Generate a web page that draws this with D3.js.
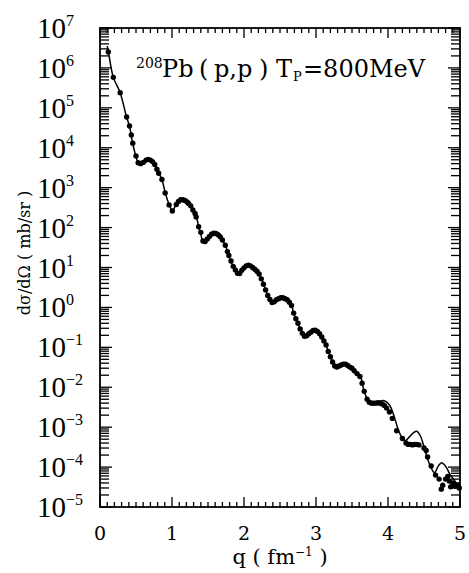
<!DOCTYPE html>
<html>
<head>
<meta charset="utf-8">
<script src="https://cdn.jsdelivr.net/npm/d3@7"></script>
<style>
  html, body { margin: 0; padding: 0; background: #fff; }
  svg { display: block; }
  text { font-family: "Liberation Serif", "DejaVu Serif", serif; fill: #000; }
  .cent { font-family: "DejaVu Serif", "Liberation Serif", serif; }
</style>
</head>
<body>
<svg id="chart" width="469" height="573"></svg>
<script>
// Momentum transfer q (fm^-1) and cross sections dσ/dΩ (mb/sr)
const qTheory = [0.10, 0.116, 0.185, 0.28, 0.37, 0.41, 0.45, 0.50, 0.535, 0.60, 0.67, 0.74, 0.81, 0.86, 0.905, 0.96, 1.005, 1.05, 1.09, 1.145, 1.23, 1.29, 1.34, 1.37, 1.39, 1.44, 1.49, 1.60, 1.67, 1.74, 1.79, 1.83, 1.88, 1.93, 2.00, 2.065, 2.135, 2.20, 2.25, 2.30, 2.35, 2.39, 2.46, 2.53, 2.60, 2.66, 2.69, 2.74, 2.79, 2.855, 2.925, 2.995, 3.06, 3.13, 3.18, 3.23, 3.28, 3.34, 3.41, 3.48, 3.55, 3.62, 3.66, 3.71, 3.76, 3.85, 3.95, 4.02, 4.08, 4.14, 4.20, 4.24, 4.30, 4.36, 4.40, 4.45, 4.50, 4.55, 4.60, 4.645, 4.70, 4.745, 4.80, 4.86, 4.92, 4.97];
const sigmaTheory = [3.5e6, 2.6e6, 5.8e5, 2.4e5, 5.8e4, 3.5e4, 1.4e4, 6.0e3, 4.2e3, 4.4e3, 5.1e3, 4.3e3, 2.4e3, 1.6e3, 760, 380, 270, 355, 450, 510, 410, 275, 180, 107, 79, 43, 54, 72, 59, 36, 20, 12.6, 8.7, 6.9, 9.5, 11.5, 9.5, 7.4, 4.9, 2.75, 1.7, 1.32, 1.58, 1.74, 1.58, 1.15, 0.71, 0.44, 0.27, 0.186, 0.234, 0.27, 0.204, 0.126, 0.071, 0.044, 0.032, 0.035, 0.038, 0.032, 0.024, 0.018, 0.0089, 0.0052, 0.0042, 0.0043, 0.0046, 0.0036, 0.0020, 8.9e-4, 5.2e-4, 4.6e-4, 5.8e-4, 7.4e-4, 7.9e-4, 6.0e-4, 3.2e-4, 1.6e-4, 9.5e-5, 7.2e-5, 1.07e-4, 1.29e-4, 1.05e-4, 6.6e-5, 4.7e-5, 3.5e-5];

const qData = [0.115, 0.185, 0.28, 0.37, 0.41, 0.435, 0.455, 0.50, 0.53, 0.565, 0.60, 0.64, 0.67, 0.70, 0.73, 0.76, 0.79, 0.815, 0.86, 0.905, 0.96, 1.005, 1.06, 1.09, 1.12, 1.15, 1.18, 1.21, 1.23, 1.26, 1.29, 1.32, 1.335, 1.37, 1.40, 1.43, 1.46, 1.49, 1.52, 1.55, 1.58, 1.61, 1.64, 1.67, 1.70, 1.74, 1.77, 1.79, 1.82, 1.85, 1.88, 1.91, 1.94, 1.97, 2.00, 2.03, 2.06, 2.09, 2.12, 2.15, 2.18, 2.21, 2.24, 2.27, 2.30, 2.33, 2.36, 2.39, 2.42, 2.45, 2.48, 2.51, 2.54, 2.57, 2.60, 2.63, 2.66, 2.69, 2.72, 2.75, 2.78, 2.81, 2.84, 2.87, 2.90, 2.93, 2.96, 2.99, 3.02, 3.05, 3.08, 3.11, 3.14, 3.17, 3.20, 3.23, 3.26, 3.29, 3.32, 3.35, 3.38, 3.41, 3.44, 3.47, 3.50, 3.53, 3.57, 3.61, 3.64, 3.67, 3.71, 3.74, 3.77, 3.80, 3.83, 3.86, 3.89, 3.92, 3.95, 3.98, 4.02, 4.06, 4.12, 4.20, 4.25, 4.28, 4.31, 4.34, 4.37, 4.40, 4.43, 4.50, 4.53, 4.55, 4.60, 4.66, 4.71, 4.74, 4.76, 4.80, 4.83, 4.85, 4.87, 4.90, 4.92, 4.94, 4.97, 4.99];
const sigmaData = [2.5e6, 5.8e5, 2.4e5, 5.9e4, 3.5e4, 2.1e4, 1.3e4, 6.2e3, 4.2e3, 4.0e3, 4.3e3, 4.9e3, 5.1e3, 4.9e3, 4.5e3, 3.8e3, 2.9e3, 2.3e3, 1.6e3, 740, 370, 260, 380, 450, 500, 500, 480, 440, 400, 350, 275, 225, 185, 105, 76, 46, 45, 52, 60, 68, 72, 71, 66, 59, 49, 36, 25, 20, 14.5, 10.7, 8.7, 7.2, 7.1, 8.5, 9.8, 11, 11.5, 11, 10, 9.1, 8.1, 6.9, 5.2, 3.8, 2.75, 2.0, 1.58, 1.32, 1.38, 1.55, 1.66, 1.74, 1.74, 1.66, 1.55, 1.35, 1.12, 0.72, 0.52, 0.40, 0.29, 0.224, 0.19, 0.195, 0.219, 0.24, 0.263, 0.269, 0.251, 0.219, 0.182, 0.145, 0.115, 0.079, 0.058, 0.043, 0.034, 0.032, 0.034, 0.036, 0.038, 0.038, 0.035, 0.032, 0.030, 0.026, 0.022, 0.0186, 0.0126, 0.0079, 0.0050, 0.0042, 0.0040, 0.0040, 0.0040, 0.0041, 0.0040, 0.0038, 0.0035, 0.0030, 0.0024, 0.00166, 8.1e-4, 5.2e-4, 4.0e-4, 3.7e-4, 3.7e-4, 3.6e-4, 3.7e-4, 3.7e-4, 3.6e-4, 3.0e-4, 2.6e-4, 1.8e-4, 1.07e-4, 6.3e-5, 5.0e-5, 2.8e-5, 3.5e-5, 5.0e-5, 5.8e-5, 4.5e-5, 3.2e-5, 4.0e-5, 3.8e-5, 3.3e-5, 3.5e-5, 3.0e-5];

const xTickLabels = ["0", "1", "2", "3", "4", "5"];
const yExponents = [-5, -4, -3, -2, -1, 0, 1, 2, 3, 4, 5, 6, 7];

const svg = d3.select("#chart");
const plotLeft = 100, plotRight = 460, plotTop = 28, plotBottom = 507;

const x = d3.scaleLinear().domain([0, 5]).range([plotLeft, plotRight]);
const y = d3.scaleLog().domain([1e-5, 1e7]).range([plotBottom, plotTop]);

// tick values: majors at whole q / powers of ten, minors at 0.1 q / 2..9 per decade
const xMajor = d3.range(0, 6);
const xMinor = d3.range(0, 51).map(i => i / 10).filter(v => Math.abs(v - Math.round(v)) > 1e-9);
const yMajor = yExponents.map(e => Math.pow(10, e));
const yMinor = [];
yExponents.slice(0, -1).forEach(e => {
  for (let k = 2; k <= 9; k++) yMinor.push(k * Math.pow(10, e));
});

// y tick labels: 10^n
const yLab = svg.append("g");
yExponents.forEach(e => {
  const t = yLab.append("text")
    .attr("x", 37).attr("y", y(Math.pow(10, e)) + 10)
    .attr("font-size", 29);
  t.append("tspan").text("10");
  t.append("tspan").attr("dy", -12).attr("font-size", 16)
    .text(e < 0 ? "\u2212" + Math.abs(e) : String(e));
});

// x tick labels
svg.append("g").selectAll("text").data(xTickLabels).join("text")
  .attr("class", "cent")
  .attr("x", (d, i) => x(xMajor[i]))
  .attr("y", 540)
  .attr("text-anchor", "middle")
  .attr("font-size", 19)
  .text(d => d);

// axis titles
const xt = svg.append("text").attr("class", "cent").attr("x", 280).attr("y", 564)
  .attr("text-anchor", "middle").attr("font-size", 21);
xt.append("tspan").text("q ( fm");
xt.append("tspan").attr("dy", -8).attr("font-size", 12).text("\u22121");
xt.append("tspan").attr("dy", 8).text(" )");

svg.append("text")
  .attr("class", "cent")
  .attr("transform", "translate(30,253) rotate(-90)")
  .attr("text-anchor", "middle").attr("font-size", 16)
  .text("d\u03c3/d\u03a9 ( mb/sr )");

// reaction label
const ann = svg.append("text").attr("class", "cent").attr("y", 77).attr("font-size", 24);
ann.append("tspan").attr("x", 136).attr("y", 68).attr("font-size", 14).text("208");
ann.append("tspan").attr("x", 162).attr("y", 77).text("Pb");
ann.append("tspan").attr("x", 199).text("(");
ann.append("tspan").attr("x", 214).text("p,p");
ann.append("tspan").attr("x", 259).text(")");
ann.append("tspan").attr("x", 276).text("T");
ann.append("tspan").attr("x", 293).attr("y", 81).attr("font-size", 13).text("P");
ann.append("tspan").attr("x", 303).attr("y", 77).text("=800MeV");

// theory curve
const theory = qTheory.map((q, i) => [q, sigmaTheory[i]]);
svg.append("path")
  .datum(theory)
  .style("fill", "none").style("stroke", "#000").style("stroke-width", "1.5px")
  .attr("d", d3.line().x(d => x(d[0])).y(d => y(d[1])).curve(d3.curveCatmullRom.alpha(0.5)));

// measured points
const data = qData.map((q, i) => [q, sigmaData[i]]);
svg.append("g").selectAll("circle").data(data).join("circle")
  .attr("cx", d => x(d[0])).attr("cy", d => y(d[1]))
  .attr("r", 2.7).style("fill", "#000");

// inward tick marks on all four sides, as thin filled bars
const tickSpecs = [];
xMinor.forEach(v => tickSpecs.push({ v, len: 5, axis: "x" }));
xMajor.forEach(v => tickSpecs.push({ v, len: 10, axis: "x" }));
yMinor.forEach(v => tickSpecs.push({ v, len: 9, axis: "y" }));
yMajor.forEach(v => tickSpecs.push({ v, len: 12, axis: "y" }));
const tw = 1.3;
const bars = [];
tickSpecs.forEach(t => {
  if (t.axis === "x") {
    const px = x(t.v);
    bars.push({ x: px - tw / 2, y: plotBottom - t.len, w: tw, h: t.len });
    bars.push({ x: px - tw / 2, y: plotTop, w: tw, h: t.len });
  } else {
    const py = y(t.v);
    bars.push({ x: plotLeft, y: py - tw / 2, w: t.len, h: tw });
    bars.push({ x: plotRight - t.len, y: py - tw / 2, w: t.len, h: tw });
  }
});
svg.append("g").attr("class", "tickbars").selectAll("rect").data(bars).join("rect")
  .attr("x", d => d.x).attr("y", d => d.y)
  .attr("width", d => d.w).attr("height", d => d.h)
  .style("fill", "#000");

// frame
svg.append("rect")
  .attr("x", plotLeft).attr("y", plotTop)
  .attr("width", plotRight - plotLeft).attr("height", plotBottom - plotTop)
  .style("fill", "none").style("stroke", "#000").style("stroke-width", "1.8px");
</script>
</body>
</html>
